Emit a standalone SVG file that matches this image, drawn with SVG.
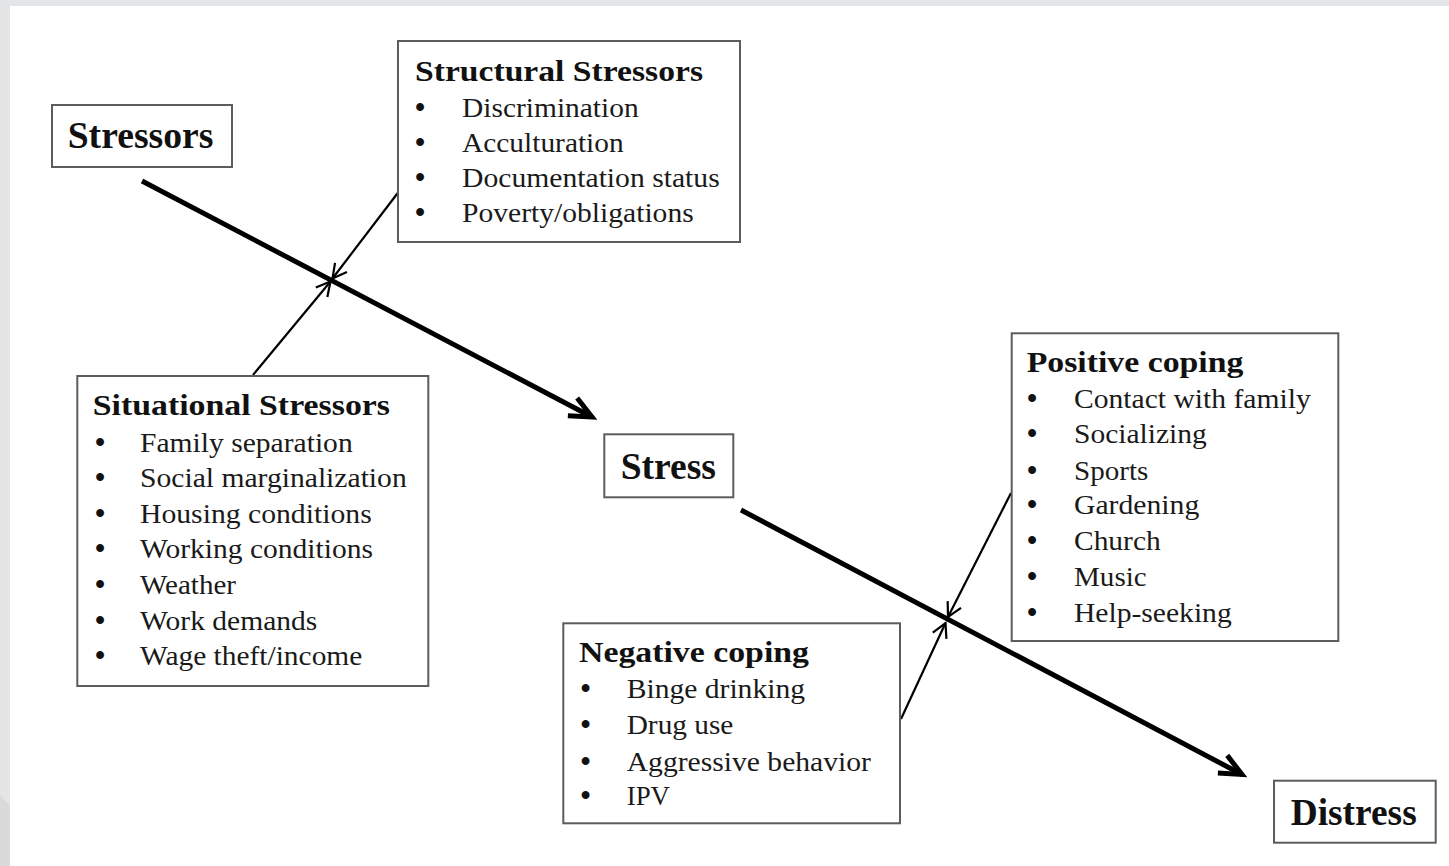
<svg xmlns="http://www.w3.org/2000/svg" width="1449" height="866" viewBox="0 0 1449 866">
<defs>
<style>
.box{fill:#fff;stroke:#5c5c5c;stroke-width:2}
.big{font-family:"Liberation Serif","Times New Roman",serif;font-weight:bold;font-size:38px;fill:#111}
.hd{font-family:"Liberation Serif","Times New Roman",serif;font-weight:bold;font-size:28.5px;fill:#111}
.it{font-family:"Liberation Serif","Times New Roman",serif;font-size:27px;fill:#1a1a1a}
.bl{font-family:"Liberation Serif","Times New Roman",serif;font-size:29px;font-weight:bold;fill:#111}
.thick{fill:none;stroke:#000;stroke-width:5}
.thin{fill:none;stroke:#000;stroke-width:2.2}
</style>
<marker id="mThick" markerUnits="userSpaceOnUse" orient="auto" overflow="visible" markerWidth="1" markerHeight="1">
<path d="M-22,-10 L0,0 L-22,10" fill="none" stroke="#000" stroke-width="5"/>
</marker>
<marker id="mThin" markerUnits="userSpaceOnUse" orient="auto" overflow="visible" markerWidth="1" markerHeight="1">
<path d="M-14,-7.5 L0,0 L-14,7.5" fill="none" stroke="#000" stroke-width="2.2"/>
</marker>
</defs>
<rect x="0" y="0" width="1449" height="866" fill="#fff"/>
<rect x="0" y="0" width="1449" height="6" fill="#e4e5e7"/>
<rect x="0" y="0" width="10" height="866" fill="#e4e5e7"/>
<polygon points="0,795 10,806 10,866 0,866" fill="#dadada"/>

<g id="connectors">
<line class="thick" x1="142" y1="181" x2="592" y2="417" marker-end="url(#mThick)"/>
<line class="thick" x1="741" y1="510" x2="1242" y2="774.5" marker-end="url(#mThick)"/>
<line class="thin" x1="398.5" y1="192" x2="332.5" y2="278.5" marker-end="url(#mThin)"/>
<line class="thin" x1="253" y1="375" x2="330.5" y2="281.5" marker-end="url(#mThin)"/>
<line class="thin" x1="1011" y1="493" x2="948" y2="617" marker-end="url(#mThin)"/>
<line class="thin" x1="901" y1="719" x2="945.5" y2="623" marker-end="url(#mThin)"/>
</g>

<g id="stressors">
<rect class="box" x="52" y="105" width="180" height="62"/>
<text class="big" x="67.7" y="148.3" textLength="145.7" lengthAdjust="spacingAndGlyphs">Stressors</text>
</g>

<g id="structural">
<rect class="box" x="398" y="41" width="342" height="201"/>
<text class="hd" x="415" y="80.7" textLength="288" lengthAdjust="spacingAndGlyphs">Structural Stressors</text>
<text class="bl" x="415" y="117.3">•</text>
<text class="it" x="462" y="117.3" textLength="176.7" lengthAdjust="spacingAndGlyphs">Discrimination</text>
<text class="bl" x="415" y="152.3">•</text>
<text class="it" x="462" y="152.3" textLength="161.7" lengthAdjust="spacingAndGlyphs">Acculturation</text>
<text class="bl" x="415" y="187.3">•</text>
<text class="it" x="462" y="187.3" textLength="257.7" lengthAdjust="spacingAndGlyphs">Documentation status</text>
<text class="bl" x="415" y="222.3">•</text>
<text class="it" x="462" y="222.3" textLength="231.7" lengthAdjust="spacingAndGlyphs">Poverty/obligations</text>
</g>

<g id="situational">
<rect class="box" x="77.3" y="376" width="351" height="310"/>
<text class="hd" x="92.7" y="415" textLength="297.3" lengthAdjust="spacingAndGlyphs">Situational Stressors</text>
<text class="bl" x="95" y="451.7">•</text>
<text class="it" x="140" y="451.7" textLength="212.7" lengthAdjust="spacingAndGlyphs">Family separation</text>
<text class="bl" x="95" y="487.3">•</text>
<text class="it" x="140" y="487.3" textLength="266.7" lengthAdjust="spacingAndGlyphs">Social marginalization</text>
<text class="bl" x="95" y="523.3">•</text>
<text class="it" x="140" y="523.3" textLength="231.7" lengthAdjust="spacingAndGlyphs">Housing conditions</text>
<text class="bl" x="95" y="558.3">•</text>
<text class="it" x="140" y="558.3" textLength="233" lengthAdjust="spacingAndGlyphs">Working conditions</text>
<text class="bl" x="95" y="594">•</text>
<text class="it" x="140" y="594" textLength="96" lengthAdjust="spacingAndGlyphs">Weather</text>
<text class="bl" x="95" y="630">•</text>
<text class="it" x="140" y="630" textLength="177.3" lengthAdjust="spacingAndGlyphs">Work demands</text>
<text class="bl" x="95" y="665">•</text>
<text class="it" x="140" y="665" textLength="222.3" lengthAdjust="spacingAndGlyphs">Wage theft/income</text>
</g>

<g id="stress">
<rect class="box" x="604.3" y="434.3" width="129" height="63"/>
<text class="big" x="620.7" y="479" textLength="95.3" lengthAdjust="spacingAndGlyphs">Stress</text>
</g>

<g id="positive">
<rect class="box" x="1011.7" y="333.3" width="326.6" height="307.7"/>
<text class="hd" x="1026.7" y="371.7" textLength="216.7" lengthAdjust="spacingAndGlyphs">Positive coping</text>
<text class="bl" x="1027" y="407.7">•</text>
<text class="it" x="1074" y="407.7" textLength="236.7" lengthAdjust="spacingAndGlyphs">Contact with family</text>
<text class="bl" x="1027" y="443.3">•</text>
<text class="it" x="1074" y="443.3" textLength="132.7" lengthAdjust="spacingAndGlyphs">Socializing</text>
<text class="bl" x="1027" y="480">•</text>
<text class="it" x="1074" y="480" textLength="74.3" lengthAdjust="spacingAndGlyphs">Sports</text>
<text class="bl" x="1027" y="514.3">•</text>
<text class="it" x="1074" y="514.3" textLength="125.3" lengthAdjust="spacingAndGlyphs">Gardening</text>
<text class="bl" x="1027" y="550.3">•</text>
<text class="it" x="1074" y="550.3" textLength="86.7" lengthAdjust="spacingAndGlyphs">Church</text>
<text class="bl" x="1027" y="586">•</text>
<text class="it" x="1074" y="586" textLength="72.7" lengthAdjust="spacingAndGlyphs">Music</text>
<text class="bl" x="1027" y="621.7">•</text>
<text class="it" x="1074" y="621.7" textLength="157.7" lengthAdjust="spacingAndGlyphs">Help-seeking</text>
</g>

<g id="negative">
<rect class="box" x="563.3" y="623.3" width="336.7" height="200"/>
<text class="hd" x="579" y="661.7" textLength="230" lengthAdjust="spacingAndGlyphs">Negative coping</text>
<text class="bl" x="580.5" y="697.7">•</text>
<text class="it" x="626.7" y="697.7" textLength="178.3" lengthAdjust="spacingAndGlyphs">Binge drinking</text>
<text class="bl" x="580.5" y="734">•</text>
<text class="it" x="626.7" y="734" textLength="106.7" lengthAdjust="spacingAndGlyphs">Drug use</text>
<text class="bl" x="580.5" y="770.7">•</text>
<text class="it" x="626.7" y="770.7" textLength="244.3" lengthAdjust="spacingAndGlyphs">Aggressive behavior</text>
<text class="bl" x="580.5" y="805">•</text>
<text class="it" x="626.7" y="805" textLength="43.3" lengthAdjust="spacingAndGlyphs">IPV</text>
</g>

<g id="distress">
<rect class="box" x="1274" y="780.7" width="161.7" height="62"/>
<text class="big" x="1290.7" y="825" textLength="126" lengthAdjust="spacingAndGlyphs">Distress</text>
</g>
</svg>
